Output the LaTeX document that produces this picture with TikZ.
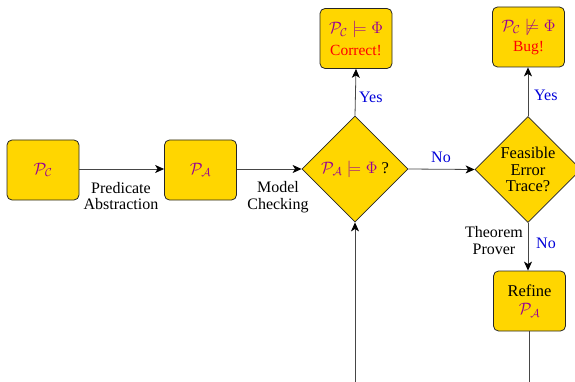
\RequirePackage{fix-cm}
\documentclass[tikz,border=0pt]{standalone}
\usepackage{amssymb}
\usepackage{fontspec}
\setmainfont{Liberation Serif}
\usetikzlibrary{shapes.geometric,arrows.meta}
\definecolor{boxfill}{RGB}{255,214,0}
\definecolor{mathpurple}{RGB}{150,0,150}
\definecolor{edgegray}{RGB}{70,70,70}
\newcommand{\pmath}[1]{\textcolor{mathpurple}{$#1$}}
\tikzset{
  stepbox/.style={draw=black!85, fill=boxfill, rounded corners=5pt, minimum width=72pt, minimum height=60pt, inner sep=0pt, align=center, line width=0.8pt},
  decide/.style={diamond, aspect=1, draw=black!85, fill=boxfill, minimum width=106pt, minimum height=106pt, inner sep=0pt, align=center, line width=0.8pt},
  conn/.style={draw=edgegray, line width=0.8pt, -{Stealth[length=9pt,width=8pt,inset=2.5pt,color=black]}},
  plainconn/.style={draw=edgegray, line width=0.8pt},
  lbl/.style={inner sep=0pt, align=center, font=\rmfamily\fontsize{16}{16.5}\selectfont},
  ans/.style={lbl, text=blue!85!black},
}
\begin{document}
\begin{tikzpicture}[x=1pt,y=-1pt, font=\rmfamily\fontsize{16.5}{17.5}\selectfont]
\useasboundingbox (0,0) rectangle (575,382);
\node[stepbox] (pc) at (43,170) {\pmath{\mathcal{P}_{\mathcal{C}}}};
\node[stepbox] (pa) at (200.5,170) {\pmath{\mathcal{P}_{\mathcal{A}}}};
\node[decide] (d1) at (355,169) {\pmath{\mathcal{P}_{\mathcal{A}} \models \Phi} ?};
\node[stepbox] (ok) at (356,38.5) {\pmath{\mathcal{P}_{\mathcal{C}} \models \Phi}\\[4pt]\textcolor{red}{\fontsize{15.5}{16}\selectfont Correct!}};
\node[decide] (d2) at (528,169.5) {Feasible\\[-1pt]Error\\[-1pt]Trace?};
\node[stepbox] (bug) at (528.5,37) {\pmath{\mathcal{P}_{\mathcal{C}} \not\models \Phi}\\[3pt]\textcolor{red}{\fontsize{15.5}{16}\selectfont Bug!}};
\node[stepbox] (ref) at (529.5,301) {Refine\\[1pt]\pmath{\mathcal{P}_{\mathcal{A}}}};
\coordinate (refend) at (529.5,382);
\coordinate (loopstart) at (355,382);

\draw[conn] (pc.east |- 0,169) -- (pa.west |- 0,169);
\draw[conn] (pa.east |- 0,169) -- (d1.west);
\draw[conn] (d1.north) -- (ok.south);
\draw[conn] (d1.east) -- (d2.west);
\draw[conn] (d2.north) -- (bug.south -| d2.north);
\draw[conn] (d2.south) -- (ref.north -| d2.south);
\draw[plainconn] (ref.south -| refend) -- (refend);
\draw[conn] (loopstart) -- (d1.south);

\node[lbl] (l1) at (121,196) {Predicate\\Abstraction};
\node[lbl] (l2) at (278,197) {Model\\Checking};
\node[ans] (n1) at (441,157) {No};
\node[ans, anchor=west] (y1) at (359,97.5) {Yes};
\node[ans, anchor=west] (y2) at (534,95) {Yes};
\node[ans, anchor=west] (n2) at (536,243) {No};
\node[lbl, anchor=east] (tp) at (523,240.5) {Theorem\\Prover};
\end{tikzpicture}
\end{document}
